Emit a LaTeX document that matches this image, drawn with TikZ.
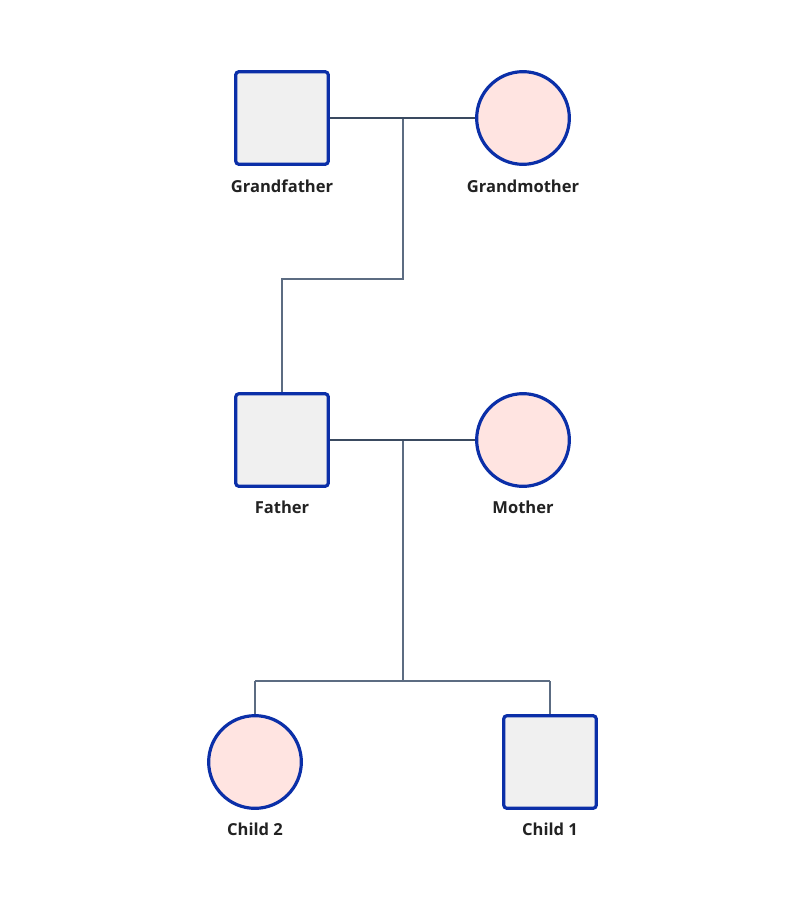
\documentclass[tikz,border=0pt]{standalone}
\usepackage{fontspec}
\setmainfont{Open Sans}
\begin{document}
\begin{tikzpicture}[x=0.75pt,y=-0.75pt,
  male/.style={draw=pedblue,fill=malefill,line width=2.4pt,minimum size=69.5pt,inner sep=0pt,rounded corners=2.5pt},
  female/.style={circle,draw=pedblue,fill=femalefill,line width=2.4pt,minimum size=69.5pt,inner sep=0pt},
  lbl/.style={font=\bfseries\fontsize{12.4}{15}\selectfont,text=labeltext,inner sep=0pt,anchor=center},
  marriage/.style={draw=marcol,line width=1.9pt},
  descent/.style={draw=descol,line width=1.0pt}]
\definecolor{pedblue}{HTML}{0B2FA8}
\definecolor{malefill}{HTML}{F0F0F0}
\definecolor{femalefill}{HTML}{FFE4E1}
\definecolor{labeltext}{HTML}{222222}
\definecolor{marcol}{HTML}{3A4A60}
\definecolor{descol}{HTML}{5C6C82}
\useasboundingbox[fill=white] (0,0) rectangle (800,916);
% nodes
\node[male] (gf) at (282,118) {};
\node[female] (gm) at (523,118) {};
\node[male] (fa) at (282,440) {};
\node[female] (mo) at (523,440) {};
\node[female] (c2) at (255,762) {};
\node[male] (c1) at (550,762) {};
% labels
\node[lbl] (gfl) at (282,186) {Grandfather};
\node[lbl] (gml) at (523,186) {Grandmother};
\node[lbl] (fal) at (282,507) {Father};
\node[lbl] (mol) at (523,507) {Mother};
\node[lbl] (c2l) at (255,829) {Child 2};
\node[lbl] (c1l) at (550,829) {Child 1};
% junctions
\coordinate (m1) at (403,118);
\coordinate (d1) at (403,279);
\coordinate (d1b) at (282,279);
\coordinate (m2) at (403,440);
\coordinate (s2) at (403,681);
\coordinate (s2l) at (255,681);
\coordinate (s2r) at (550,681);
% connectors
\draw[descent] (m1) -- (d1) -- (d1b) -- (fa.north);
\draw[descent] (m2) -- (s2);
\draw[descent] (s2l) -- (s2r);
\draw[descent] (s2l) -- (c2.north);
\draw[descent] (s2r) -- (c1.north);
\draw[marriage] (gf.east) -- (gm.west);
\draw[marriage] (fa.east) -- (mo.west);
\end{tikzpicture}
\end{document}
